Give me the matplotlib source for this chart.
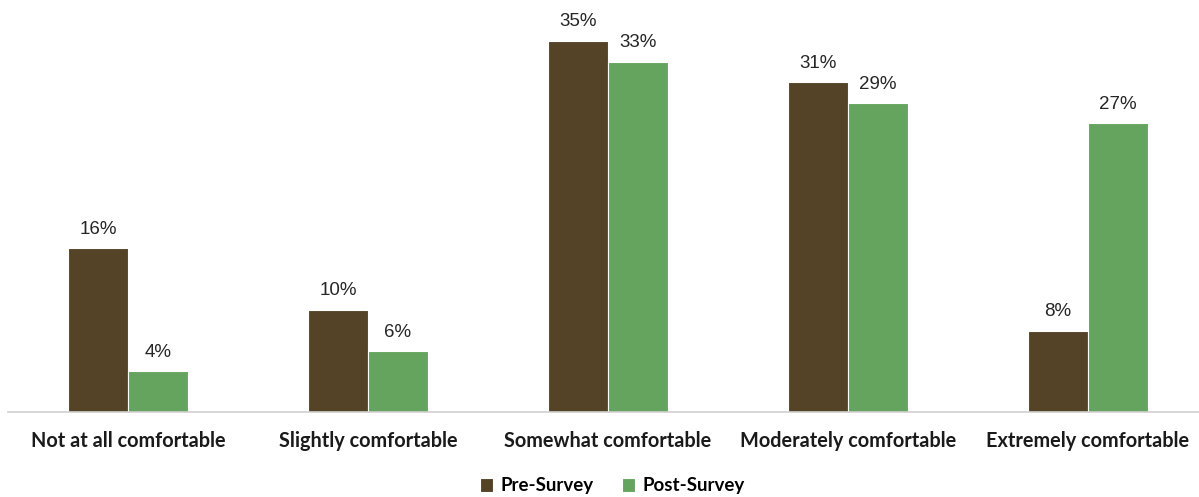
import numpy as np
import matplotlib
matplotlib.use("Agg")
import matplotlib.pyplot as plt

# ── Dados ────────────────────────────────────────────────────────────────────
categories = ["Not at all comfortable", "Slightly comfortable", "Somewhat comfortable",
              "Moderately comfortable", "Extremely comfortable"]
# alturas lidas das barras (%) e rótulos como aparecem no gráfico
pre_survey = [15.4, 9.6, 35.0, 31.1, 7.6]
post_survey = [3.8, 5.7, 33.0, 29.1, 27.2]
pre_labels = ["16%", "10%", "35%", "31%", "8%"]
post_labels = ["4%", "6%", "33%", "29%", "27%"]
series_names = ["Pre-Survey", "Post-Survey"]

PRE_COLOR = "#544327"
POST_COLOR = "#65A45F"

fig = plt.figure(figsize=(11.99, 4.97), dpi=100)
ax = fig.add_axes([8 / 1199, 85.5 / 497, 1191 / 1199, 402.4 / 497])

x = np.arange(len(categories))
width = 0.25

bars1 = ax.bar(x - width / 2, pre_survey, width, color=PRE_COLOR,
               edgecolor="white", linewidth=0.8, label=series_names[0])
bars2 = ax.bar(x + width / 2, post_survey, width, color=POST_COLOR,
               edgecolor="white", linewidth=0.8, label=series_names[1])

for bars, labels in ((bars1, pre_labels), (bars2, post_labels)):
    for bar, lab in zip(bars, labels):
        ax.text(bar.get_x() + bar.get_width() / 2, bar.get_height() + 1.0,
                lab, ha="center", va="bottom",
                fontsize=13.5, family="Liberation Sans", color="#262626")

ax.set_xlim(-0.5, -0.5 + 1191 / 240)
ax.set_ylim(0, 38)
ax.set_yticks([])
ax.set_xticks(x)
ax.set_xticklabels(categories, fontsize=14.3, fontweight="bold", family="Lato",
                   color="#1a1a1a")
ax.tick_params(axis="x", length=0, pad=14)

for s in ("top", "right", "left"):
    ax.spines[s].set_visible(False)
ax.spines["bottom"].set_color("#d0d0d0")
ax.spines["bottom"].set_linewidth(1.2)

leg = fig.legend(loc="center", bbox_to_anchor=(612 / 1199, 1 - 486 / 497), ncol=2,
                 frameon=False, handlelength=0.7, handleheight=0.7, handletextpad=0.4,
                 columnspacing=1.5, prop={"family": "Lato", "weight": "bold", "size": 13.5})

plt.savefig("out.png", dpi=100)
plt.close()
